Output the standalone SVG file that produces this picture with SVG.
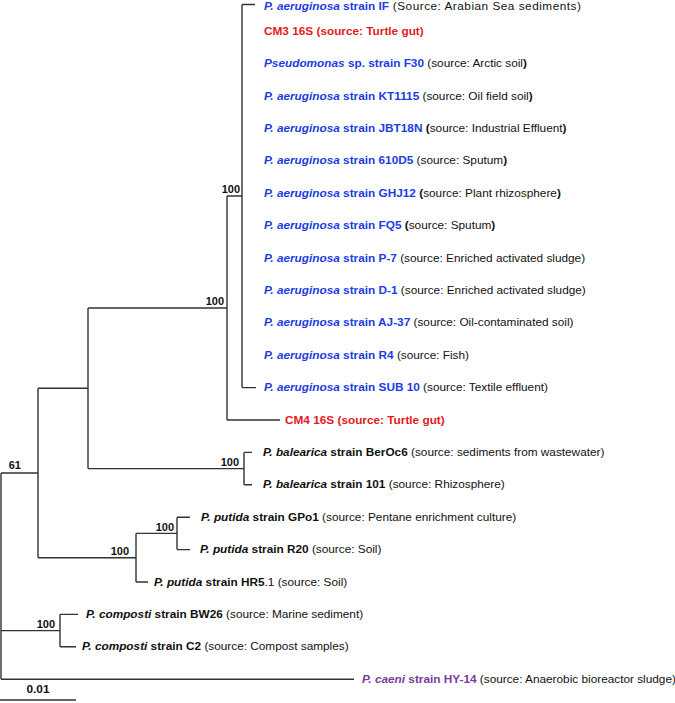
<svg xmlns="http://www.w3.org/2000/svg" width="675" height="703" viewBox="0 0 675 703">
<style>
text{font-family:"Liberation Sans",Arial,sans-serif;font-size:11.8px;fill:#111}
.b{font-weight:bold}
.i{font-style:italic}
.blue{fill:#1c3ce2}
.red{fill:#e5191e}
.pur{fill:#7a3aa0}
.bs{font-size:11px;font-weight:bold;text-anchor:end}
#connectors path{fill:none;stroke:#333;stroke-width:1.4}
</style>
<rect width="675" height="703" fill="#fff"/>
<g id="connectors">
<path d="M1,473 V679.2 M1,473 H38 M1,630.6 H60 M1,679.2 H354"/>
<path d="M38,388.3 V557.7 M38,388.3 H88 M38,557.7 H136"/>
<path d="M88,308 V468.6 M88,308 H227 M88,468.6 H244"/>
<path d="M227,196 V420 M227,196 H242 M227,420 H280"/>
<path d="M242,4.5 V387.6 M242,4.5 H255 M242,387.6 H256"/>
<path d="M244,452.4 V484.8 M244,452.4 H252 M244,484.8 H252"/>
<path d="M136,533.4 V582 M136,533.4 H177 M136,582 H148"/>
<path d="M177,517.2 V549.6 M177,517.2 H190 M177,549.6 H190"/>
<path d="M60,614.4 V646.8 M60,614.4 H78 M60,646.8 H76"/>
<path d="M0,700 H76"/>
</g>
<g id="bootstrap">
<text class="bs" x="240" y="193">100</text>
<text class="bs" x="224" y="305">100</text>
<text class="bs" x="239" y="466">100</text>
<text class="bs" x="21" y="469">61</text>
<text class="bs" x="129" y="555">100</text>
<text class="bs" x="174" y="531">100</text>
<text class="bs" x="55" y="628">100</text>
</g>
<g id="leaf-IF"><text x="264" y="10"><tspan class="b i blue">P. aeruginosa</tspan><tspan class="b blue"> strain IF</tspan><tspan letter-spacing="0.5"> (Source: Arabian Sea sediments)</tspan></text></g>
<g id="leaf-CM3"><text class="b red" x="264" y="34.7">CM3 16S (source: Turtle gut)</text></g>
<g id="leaf-F30"><text x="264" y="67.1"><tspan class="b i blue">Pseudomonas</tspan><tspan class="b blue"> sp. strain F30</tspan> (source: Arctic soil<tspan class="b">)</tspan></text></g>
<g id="leaf-KT1115"><text x="264" y="99.5"><tspan class="b i blue">P. aeruginosa</tspan><tspan class="b blue"> strain KT1115</tspan> (source: Oil field soil<tspan class="b">)</tspan></text></g>
<g id="leaf-JBT18N"><text x="264" y="131.9"><tspan class="b i blue">P. aeruginosa</tspan><tspan class="b blue"> strain JBT18N</tspan> <tspan class="b">(</tspan>source: Industrial Effluent<tspan class="b">)</tspan></text></g>
<g id="leaf-610D5"><text x="264" y="164.3"><tspan class="b i blue">P. aeruginosa</tspan><tspan class="b blue"> strain 610D5</tspan> (source: Sputum<tspan class="b">)</tspan></text></g>
<g id="leaf-GHJ12"><text x="264" y="196.7"><tspan class="b i blue">P. aeruginosa</tspan><tspan class="b blue"> strain GHJ12</tspan> <tspan class="b">(</tspan>source: Plant rhizosphere<tspan class="b">)</tspan></text></g>
<g id="leaf-FQ5"><text x="264" y="229.1"><tspan class="b i blue">P. aeruginosa</tspan><tspan class="b blue"> strain FQ5</tspan> <tspan class="b">(</tspan>source: Sputum<tspan class="b">)</tspan></text></g>
<g id="leaf-P7"><text x="264" y="261.5"><tspan class="b i blue">P. aeruginosa</tspan><tspan class="b blue"> strain P-7</tspan> (source: Enriched activated sludge)</text></g>
<g id="leaf-D1"><text x="264" y="293.9"><tspan class="b i blue">P. aeruginosa</tspan><tspan class="b blue"> strain D-1</tspan> (source: Enriched activated sludge)</text></g>
<g id="leaf-AJ37"><text x="264" y="326.3"><tspan class="b i blue">P. aeruginosa</tspan><tspan class="b blue"> strain AJ-37</tspan> (source: Oil-contaminated soil)</text></g>
<g id="leaf-R4"><text x="264" y="358.7"><tspan class="b i blue">P. aeruginosa</tspan><tspan class="b blue"> strain R4</tspan> (source: Fish)</text></g>
<g id="leaf-SUB10"><text x="264" y="391.1"><tspan class="b i blue">P. aeruginosa</tspan><tspan class="b blue"> strain SUB 10</tspan> (source: Textile effluent)</text></g>
<g id="leaf-CM4"><text class="b red" x="285" y="423.5">CM4 16S (source: Turtle gut)</text></g>
<g id="leaf-BerOc6"><text x="263" y="455.9"><tspan class="b i">P. balearica</tspan><tspan class="b"> strain BerOc6</tspan> (source: sediments from wastewater)</text></g>
<g id="leaf-101"><text x="263" y="488.3"><tspan class="b i">P. balearica</tspan><tspan class="b"> strain 101</tspan> (source: Rhizosphere)</text></g>
<g id="leaf-GPo1"><text x="201" y="520.7"><tspan class="b i">P. putida</tspan><tspan class="b"> strain GPo1</tspan> (source: Pentane enrichment culture)</text></g>
<g id="leaf-R20"><text x="200" y="553.1"><tspan class="b i">P. putida</tspan><tspan class="b"> strain R20</tspan> (source: Soil)</text></g>
<g id="leaf-HR51"><text x="154" y="585.5"><tspan class="b i">P. putida</tspan><tspan class="b"> strain HR5</tspan>.1 (source: Soil)</text></g>
<g id="leaf-BW26"><text x="86" y="617.9"><tspan class="b i">P. composti</tspan><tspan class="b"> strain BW26</tspan> (source: Marine sediment)</text></g>
<g id="leaf-C2"><text x="82" y="650.3"><tspan class="b i">P. composti</tspan><tspan class="b"> strain C2</tspan> (source: Compost samples)</text></g>
<g id="leaf-HY14"><text x="362" y="682.7"><tspan class="b i pur">P. caeni</tspan><tspan class="b pur"> strain HY-14</tspan> (source: Anaerobic bioreactor sludge)</text></g>
<g id="scale"><text class="b" x="38" y="693" text-anchor="middle" font-size="11">0.01</text></g>
</svg>
